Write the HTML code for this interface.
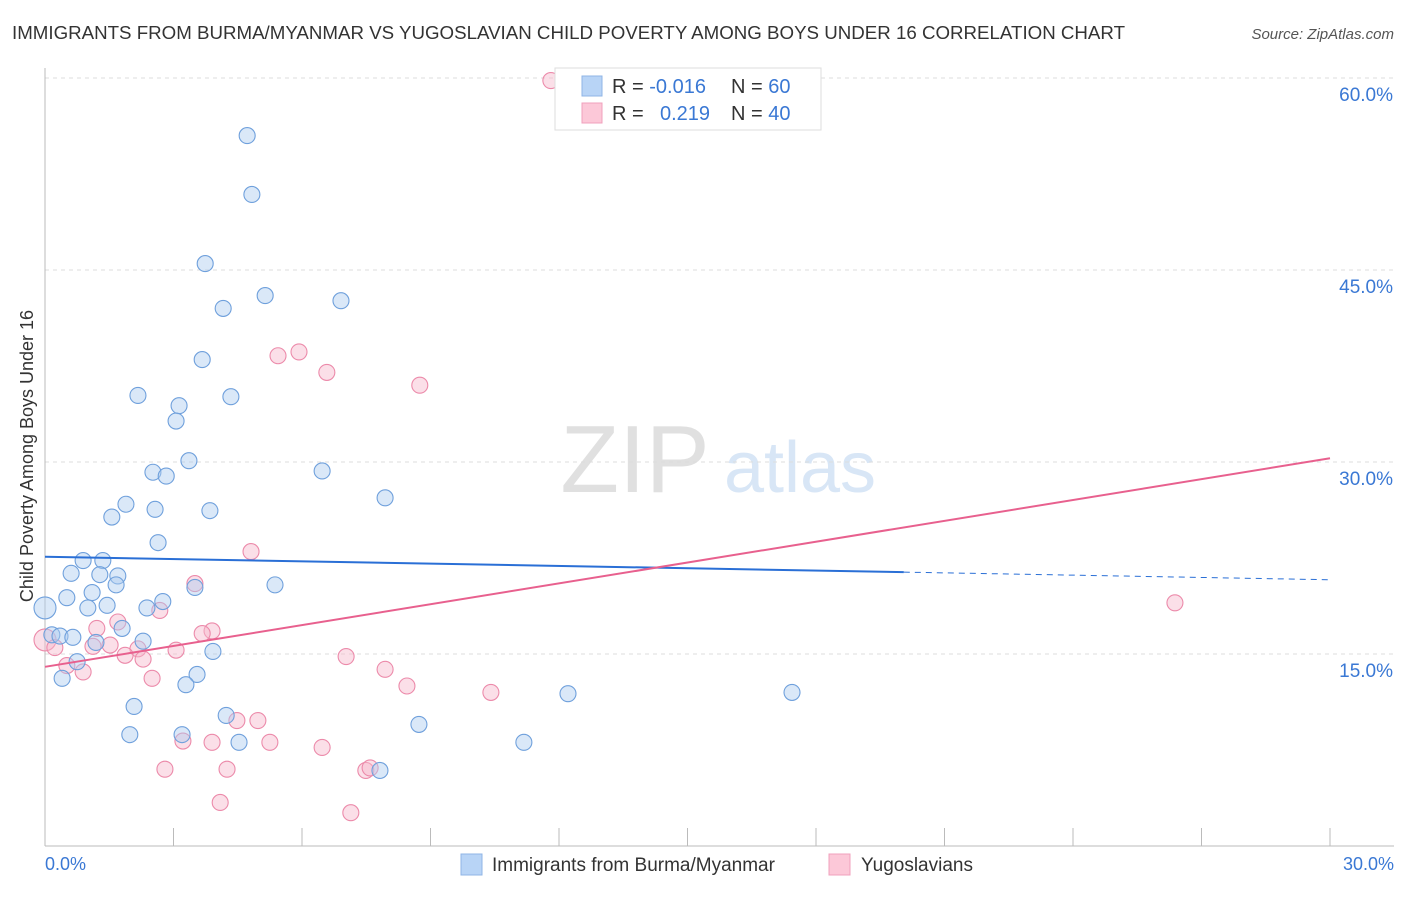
<!DOCTYPE html>
<html><head><meta charset="utf-8"><style>
body{margin:0;background:#fff;font-family:"Liberation Sans",sans-serif;}
svg text{font-family:"Liberation Sans",sans-serif;}
</style></head><body>
<svg id="chart" width="1406" height="892">
<text x="12" y="39" font-size="18" fill="#333" textLength="1113" lengthAdjust="spacingAndGlyphs">IMMIGRANTS FROM BURMA/MYANMAR VS YUGOSLAVIAN CHILD POVERTY AMONG BOYS UNDER 16 CORRELATION CHART</text>
<text x="1394" y="39" font-size="15" fill="#555" font-style="italic" text-anchor="end">Source: ZipAtlas.com</text>
<text x="635" y="492" font-size="96" fill="#e0e0e0" font-family="Liberation Serif" text-anchor="middle">ZIP</text>
<text x="800" y="492" font-size="72" fill="#d8e6f6" text-anchor="middle">atlas</text>
<text transform="translate(33,456) rotate(-90)" font-size="18" fill="#333" text-anchor="middle">Child Poverty Among Boys Under 16</text>
<g id="grid"></g><g id="marks"></g>
<g>
<rect x="555" y="68" width="266" height="62" fill="#fff" stroke="#ddd"/>
<rect x="582" y="76" width="20" height="20" fill="#b8d4f6" stroke="#8fb4e6"/>
<rect x="582" y="103" width="20" height="20" fill="#fcc8d8" stroke="#f0a0bc"/>
<text x="612" y="93" font-size="20" fill="#333">R = <tspan fill="#3a78d4">-0.016</tspan></text>
<text x="731" y="93" font-size="20" fill="#333">N = <tspan fill="#3a78d4">60</tspan></text>
<text x="612" y="120" font-size="20" fill="#333">R = <tspan fill="#3a78d4" x="660">0.219</tspan></text>
<text x="731" y="120" font-size="20" fill="#333">N = <tspan fill="#3a78d4">40</tspan></text>
</g>
<g>
<rect x="461" y="854" width="21" height="21" fill="#b8d4f6" stroke="#8fb4e6"/>
<text x="492" y="871" font-size="19" fill="#333">Immigrants from Burma/Myanmar</text>
<rect x="829" y="854" width="21" height="21" fill="#fcc8d8" stroke="#f0a0bc"/>
<text x="861" y="871" font-size="19" fill="#333">Yugoslavians</text>
</g>
</svg>
<script>
const yTicks=[15,30,45,60];
const yTickLabels=["15.0%","30.0%","45.0%","60.0%"];
const xTickLabels=["0.0%","30.0%"];
const blueX=[4.72,4.83,3.74,5.14,6.91,4.16,3.67,2.17,4.34,3.13,3.06,3.36,2.52,2.83,6.47,7.94,1.89,2.57,3.85,1.56,2.64,0.89,1.35,0.61,1.28,1.70,1.66,3.50,5.37,0.51,1.10,2.75,1.00,1.45,2.38,0,0.16,0.35,0.65,1.19,1.80,2.29,3.92,0.75,3.55,0.40,3.29,12.21,17.44,2.08,4.23,3.20,1.98,4.53,8.73,11.18,7.82];
const blueY=[55.5,50.9,45.5,43.0,42.6,42.0,38.0,35.2,35.1,34.4,33.2,30.1,29.2,28.9,29.3,27.2,26.7,26.3,26.2,25.7,23.7,22.3,22.3,21.3,21.2,21.1,20.4,20.2,20.4,19.4,19.8,19.1,18.6,18.8,18.6,18.6,16.5,16.4,16.3,15.9,17.0,16.0,15.2,14.4,13.4,13.1,12.6,11.9,12.0,10.9,10.2,8.7,8.7,8.1,9.5,8.1,5.9];
const pinkX=[11.81,5.93,5.44,6.58,8.75,4.81,3.50,2.68,26.38,1.70,1.21,3.90,3.67,2.17,1.87,2.29,1.12,1.52,3.06,7.03,7.94,8.45,10.41,2.50,0.89,0.51,0,0.23,4.48,4.97,6.47,3.90,3.22,5.25,2.80,4.25,7.49,7.59,4.09,7.14];
const pinkY=[59.8,38.6,38.3,37.0,36.0,23.0,20.5,18.4,19.0,17.5,17.0,16.8,16.6,15.4,14.9,14.6,15.6,15.7,15.3,14.8,13.8,12.5,12.0,13.1,13.6,14.1,16.1,15.5,9.8,9.8,7.7,8.1,8.2,8.1,6.0,6.0,5.9,6.1,3.4,2.6];
const blueTrend=[22.6,-0.06];
const pinkTrend=[14.0,0.543];
const X=v=>45+v/30*1285, Y=v=>846-v/15*192;
const NS="http://www.w3.org/2000/svg";
const grid=document.getElementById('grid'), marks=document.getElementById('marks');
function mk(tag,attrs,parent){const e=document.createElementNS(NS,tag);for(const k in attrs)e.setAttribute(k,attrs[k]);parent.appendChild(e);return e;}
yTicks.forEach((t,i)=>{
 const l=mk('line',{x1:45,x2:1394,y1:Y(t),y2:Y(t),stroke:'#ddd','stroke-dasharray':'4,4'},grid);
 
 
 const tx=mk('text',{x:1393,y:Y(t)+23,'font-size':19,fill:'#3a78d4','text-anchor':'end'},grid);
 tx.textContent=yTickLabels[i];
 
 
});
const ax=mk('line',{x1:45,x2:45,y1:68,y2:846,stroke:'#bbb'},grid);


const bx=mk('line',{x1:45,x2:1394,y1:846,y2:846,stroke:'#bbb'},grid);


for(let i=0;i<=10;i++){const t=mk('line',{x1:X(i*3),x2:X(i*3),y1:828,y2:846,stroke:'#bbb'},grid);
 
 }
[[0,'start',45],[30,'end',1394]].forEach((d,i)=>{const t=mk('text',{x:d[2],y:870,'font-size':18,fill:'#3a78d4','text-anchor':d[1]},grid);t.textContent=xTickLabels[i];
 
 });
function dots(xs,ys,fill,stroke,name){xs.forEach((x,i)=>{const c=mk('circle',{cx:X(x),cy:Y(ys[i]),r:(x===0?11:8),fill:fill,'fill-opacity':0.45,stroke:stroke,'stroke-width':1.1},marks);
 
 });}
dots(pinkX,pinkY,'#f7b8cc','#ec8aaa','yugoslavian-point');
dots(blueX,blueY,'#aecbf0','#6fa0dc','burma-point');
const bl=mk('line',{x1:X(0),y1:Y(blueTrend[0]),x2:X(20.05),y2:Y(blueTrend[0]+blueTrend[1]*20.05),stroke:'#2a6fd6','stroke-width':2},marks);


const bd=mk('line',{x1:X(20.05),y1:Y(blueTrend[0]+blueTrend[1]*20.05),x2:X(30),y2:Y(blueTrend[0]+blueTrend[1]*30),stroke:'#2a6fd6','stroke-width':1,'stroke-dasharray':'6,5'},marks);


const pl=mk('line',{x1:X(0),y1:Y(pinkTrend[0]),x2:X(30),y2:Y(pinkTrend[0]+pinkTrend[1]*30),stroke:'#e8608e','stroke-width':2},marks);


</script>
</body></html>
